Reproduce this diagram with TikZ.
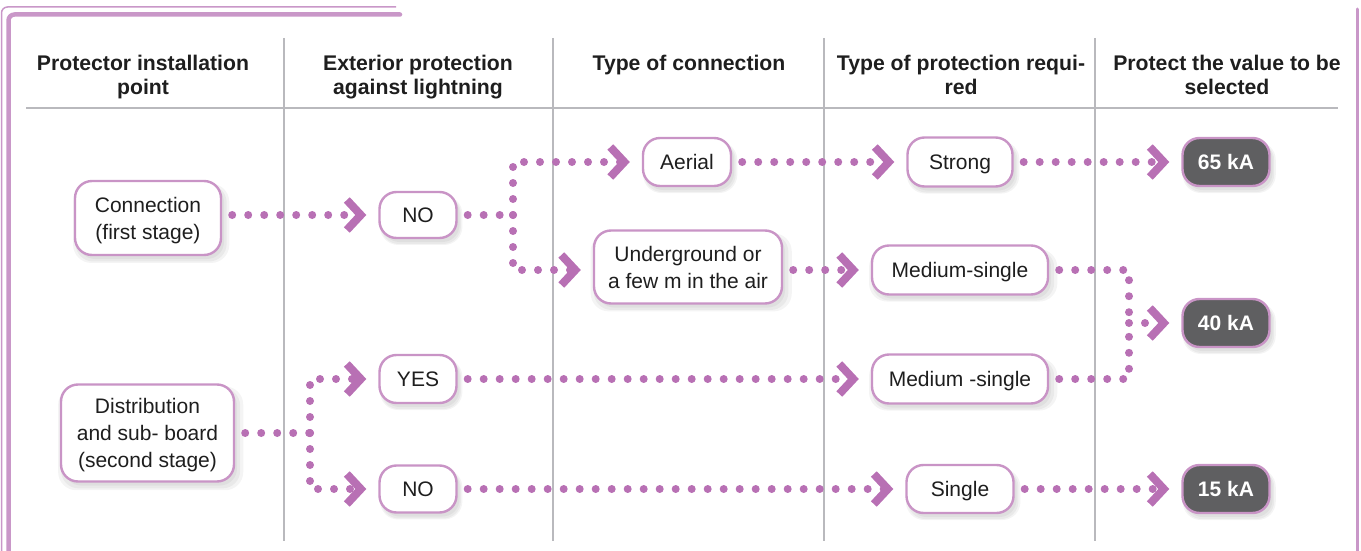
\documentclass[tikz,border=0pt]{standalone}
\usepackage{fontspec}
\setmainfont{Liberation Sans}
\usetikzlibrary{arrows.meta,calc,shadows}
\definecolor{boxc}{HTML}{C994C6}
\definecolor{dotc}{HTML}{B870B4}
\definecolor{framec}{HTML}{C997C8}
\definecolor{gridc}{HTML}{B9B9BD}
\definecolor{darkc}{HTML}{5F5F61}
\definecolor{txtc}{HTML}{1E1E1E}
\begin{document}
\begin{tikzpicture}[x=1pt,y=-1pt,
  every node/.style={font=\fontsize{21}{27}\selectfont, text=txtc, align=center, inner sep=0pt, text depth=0pt},
  hdr/.style={font=\bfseries\fontsize{21.2}{24}\selectfont},
  softshadow/.style={
    general shadow={fill=black, opacity=0.045, shadow xshift=3pt, shadow yshift=-5pt, shadow scale=1.07},
    general shadow={fill=black, opacity=0.045, shadow xshift=3pt, shadow yshift=-5pt, shadow scale=1.035},
    general shadow={fill=black, opacity=0.045, shadow xshift=3pt, shadow yshift=-4pt}},
  box/.style={draw=boxc, line width=2.4pt, rounded corners=17pt, fill=white, softshadow},
  kabox/.style={box, fill=darkc, text=white, font=\bfseries\fontsize{21}{24}\selectfont, minimum width=87pt, minimum height=48pt},
  dotline/.style={draw=dotc, line width=8pt, line cap=round, dash pattern=on 0pt off 16pt},
  chev0/.style={dotline, shorten >=12pt, -{Straight Barb[length=14pt,width=30pt,line width=8pt]}},
  chev/.style={chev0, shorten <=10pt},
  plain/.style={dotline, shorten <=10pt},
]
\useasboundingbox (0,0) rectangle (1361,551);
% frame
\draw[framec, line width=1.5pt, rounded corners=6pt] (1.5,553) -- (1.5,7) -- (396,7);
\draw[framec, line width=4.5pt, rounded corners=6pt, line cap=round] (8.5,553) -- (8.5,14.5) -- (400,14.5);
\draw[framec, line width=3pt, line cap=round] (1357,9) -- (1357,553);
% grid
\draw[gridc, line width=2.8pt] (26,108) -- (1338,108);
\foreach \xx in {284,553,824,1095} \draw[gridc, line width=2.8pt] (\xx,38) -- (\xx,541);
% headers
\node[hdr] (h1) at (143,75) {Protector installation\\point};
\node[hdr] (h2) at (418,75) {Exterior protection\\against lightning};
\node[hdr] (h3) at (689,63) {Type of connection};
\node[hdr] (h4) at (961,75) {Type of protection requi-\\red};
\node[hdr] (h5) at (1227,75) {Protect the value to be\\selected};
% nodes
\node[box, minimum width=146pt, minimum height=74pt] (conn) at (148,218) {Connection\\(first stage)};
\node[box, minimum width=173pt, minimum height=97pt] (dist) at (147.5,433) {Distribution\\and sub- board\\(second stage)};
\node[box, minimum width=77pt, minimum height=46pt] (no1) at (418,215) {NO};
\node[box, minimum width=77pt, minimum height=48pt] (yes) at (418,379) {YES};
\node[box, minimum width=77pt, minimum height=47pt] (no2) at (418,489) {NO};
\node[box, minimum width=88pt, minimum height=48pt] (aerial) at (687,162) {Aerial};
\node[box, minimum width=188pt, minimum height=73pt] (under) at (688,267) {Underground or\\a few m in the air};
\node[box, minimum width=105pt, minimum height=49pt] (strong) at (960,162) {Strong};
\node[box, minimum width=176pt, minimum height=49pt] (med1) at (960,270) {Medium-single};
\node[box, minimum width=176pt, minimum height=49pt] (med2) at (960,379) {Medium -single};
\node[box, minimum width=107pt, minimum height=48pt] (single) at (960,489) {Single};
\node[kabox] (ka65) at (1226,162) {65 kA};
\node[kabox] (ka40) at (1226,323) {40 kA};
\node[kabox] (ka15) at (1226,489) {15 kA};
% junctions
\coordinate (j1) at (513,215);
\coordinate (j2) at (1129,323);
\coordinate (j3) at (310,433);
% connectors
\draw[chev] (conn.east |- no1.west) -- (no1.west);
\draw[plain] (no1.east) -- (j1);
\draw[chev0] (j1) |- (aerial.west);
\draw[chev0] (j1) |- (under.west |- med1.west);
\draw[chev] (aerial.east) -- (strong.west);
\draw[chev] (under.east |- med1.west) -- (med1.west);
\draw[chev] (strong.east) -- (ka65.west);
\draw[plain] (med1.east) -| (j2);
\draw[plain] (med2.east) -| (j2);
\draw[chev0] (j2) -- (ka40.west);
\draw[plain] (dist.east) -- (j3);
\draw[chev0] (j3) |- (yes.west);
\draw[chev0] (j3) |- (no2.west);
\draw[chev] (yes.east) -- (med2.west);
\draw[chev] (no2.east) -- (single.west);
\draw[chev] (single.east) -- (ka15.west);
\end{tikzpicture}
\end{document}
